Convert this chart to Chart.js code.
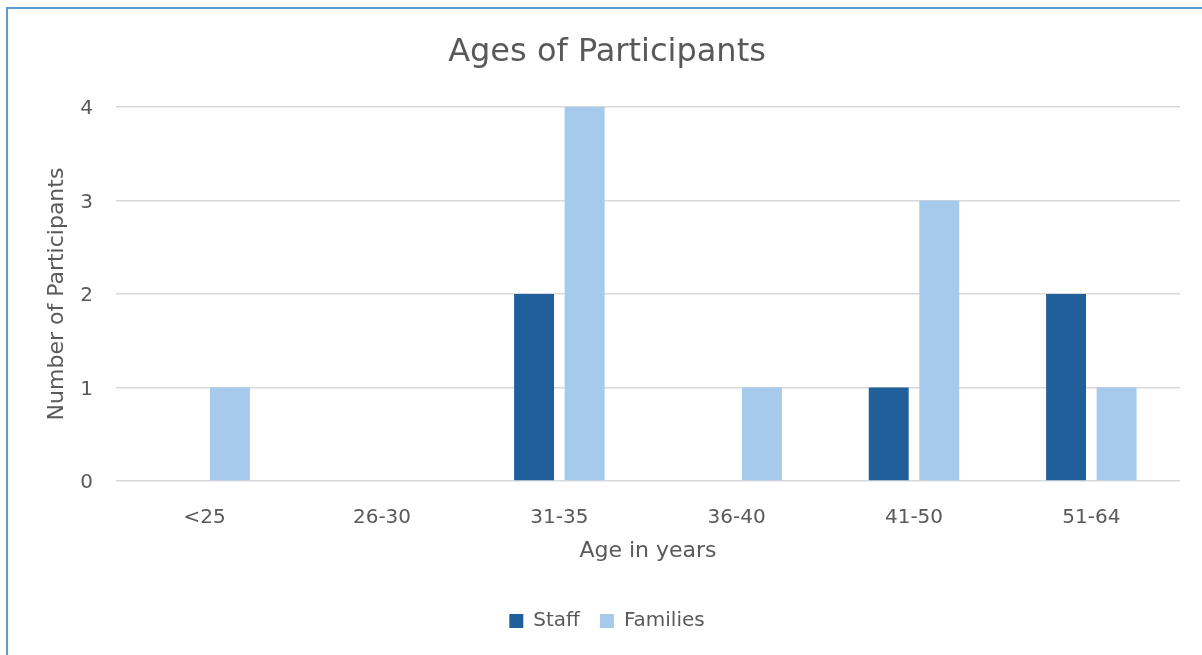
<!DOCTYPE html>
<html>
<head>
<meta charset="utf-8">
<title>Ages of Participants</title>
<script src="https://cdn.jsdelivr.net/npm/chart.js@4.4.1/dist/chart.umd.min.js"></script>
<style>
  html, body { margin: 0; padding: 0; background: #ffffff; overflow: hidden; }
  body { width: 1202px; height: 655px; position: relative; }
  #frame {
    position: absolute; left: 6px; top: 7px;
    width: 1260px; height: 700px;
    border: 2px solid #5b9bd5; box-sizing: border-box;
  }
  #wrap { position: absolute; left: 0; top: 0; width: 1202px; height: 655px; }
</style>
</head>
<body>
<div id="frame"></div>
<div id="wrap"><canvas id="chart" width="1202" height="655"></canvas></div>
<script>
// Age bands and participant counts
const ageGroups = ['<25', '26-30', '31-35', '36-40', '41-50', '51-64'];
const staffCounts = [0, 0, 2, 0, 1, 2];
const familyCounts = [1, 0, 4, 1, 3, 1];
const countTicks = [0, 1, 2, 3, 4];

const textColor = '#595959';
const gridColor = '#d9d9d9';
const fontFamily = '"DejaVu Sans", sans-serif';

new Chart(document.getElementById('chart'), {
  type: 'bar',
  data: {
    labels: ageGroups,
    datasets: [
      {
        label: 'Staff',
        data: staffCounts,
        backgroundColor: '#215f9a',
        borderWidth: 0,
        categoryPercentage: 0.57,
        barPercentage: 0.79
      },
      {
        label: 'Families',
        data: familyCounts,
        backgroundColor: '#a6caec',
        borderWidth: 0,
        categoryPercentage: 0.57,
        barPercentage: 0.79
      }
    ]
  },
  options: {
    responsive: false,
    animation: false,
    layout: { padding: { left: 34, right: 22, top: 0, bottom: 14 } },
    plugins: {
      tooltip: { enabled: false },
      title: {
        display: true,
        text: 'Ages of Participants',
        color: textColor,
        font: { family: fontFamily, size: 32, weight: 'normal' },
        padding: { top: 33.5, bottom: 35.1 }
      },
      legend: {
        position: 'bottom',
        labels: {
          color: textColor,
          font: { family: fontFamily, size: 20 },
          boxWidth: 14,
          boxHeight: 14,
          padding: 20
        }
      }
    },
    scales: {
      x: {
        grid: { display: false, drawTicks: false },
        border: { display: false },
        ticks: {
          color: textColor,
          font: { family: fontFamily, size: 20 },
          padding: 25,
          maxRotation: 0
        },
        title: {
          display: true,
          text: 'Age in years',
          color: textColor,
          font: { family: fontFamily, size: 22 },
          padding: { top: 0, bottom: 26.8 }
        },
        afterFit: (scale) => { scale.height = 110; }
      },
      y: {
        min: 0,
        max: countTicks[countTicks.length - 1],
        afterBuildTicks: (scale) => { scale.ticks = countTicks.map(v => ({ value: v })); },
        grid: { color: gridColor, lineWidth: 1.5, drawTicks: false },
        border: { display: false },
        ticks: {
          color: textColor,
          font: { family: fontFamily, size: 20 },
          padding: 23,
          labelOffset: 2
        },
        title: {
          display: true,
          text: 'Number of Participants',
          color: textColor,
          font: { family: fontFamily, size: 22 },
          padding: { top: 9.8, bottom: 0 }
        },
        afterFit: (scale) => { scale.width = 82; }
      }
    }
  }
});
</script>
</body>
</html>
